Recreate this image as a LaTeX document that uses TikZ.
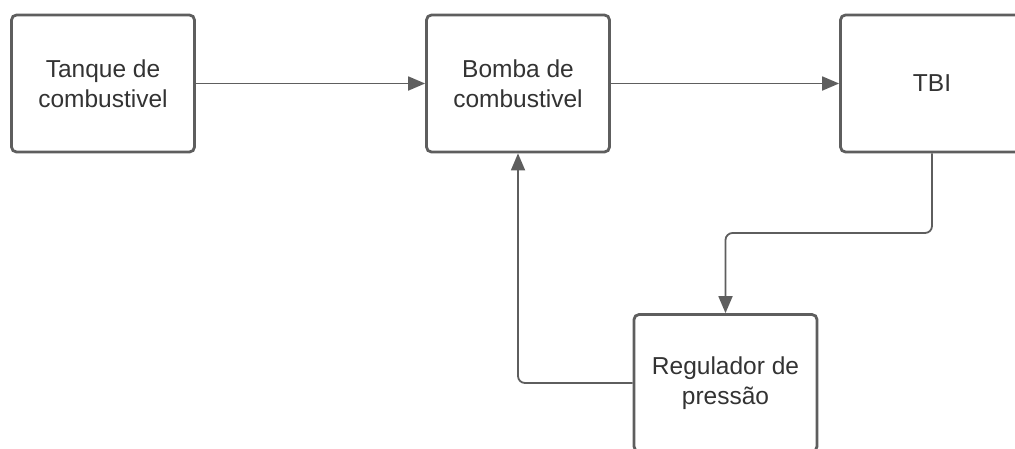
\documentclass[tikz,border=0pt]{standalone}
\usepackage{fontspec}
\setmainfont{Liberation Sans}
\usetikzlibrary{arrows.meta}
\definecolor{edge}{HTML}{5E5E5E}
\definecolor{ink}{HTML}{333333}
\tikzset{
  blockbox/.style={draw=edge, line width=2.8pt, rounded corners=5pt, fill=white,
    minimum width=183pt, minimum height=137pt, inner sep=0pt,
    align=center, text=ink, font=\fontsize{24.5}{30}\selectfont},
  flow/.style={draw=edge, line width=1.8pt, rounded corners=7pt,
    -{Triangle[length=17pt,width=14pt]}}
}
\begin{document}
\begin{tikzpicture}[x=1pt,y=-1pt]
  \useasboundingbox (0,0) rectangle (1015,448);
  \clip (0,0) rectangle (1015,448);
  \node[blockbox] (tanque) at (103,83.5) {Tanque de\\combustivel};
  \node[blockbox] (bomba) at (518,83.5) {Bomba de\\combustivel};
  \node[blockbox] (tbi) at (932,83.5) {TBI};
  \node[blockbox] (reg) at (725.5,383) {Regulador de\\pressão};
  \coordinate (turn) at (932,233);
  \draw[flow] (tanque.east) -- (bomba.west);
  \draw[flow] (bomba.east) -- (tbi.west);
  \draw[flow] (tbi.south) -- (turn) -| (reg.north);
  \draw[flow] (reg.west) -| (bomba.south);
\end{tikzpicture}
\end{document}
